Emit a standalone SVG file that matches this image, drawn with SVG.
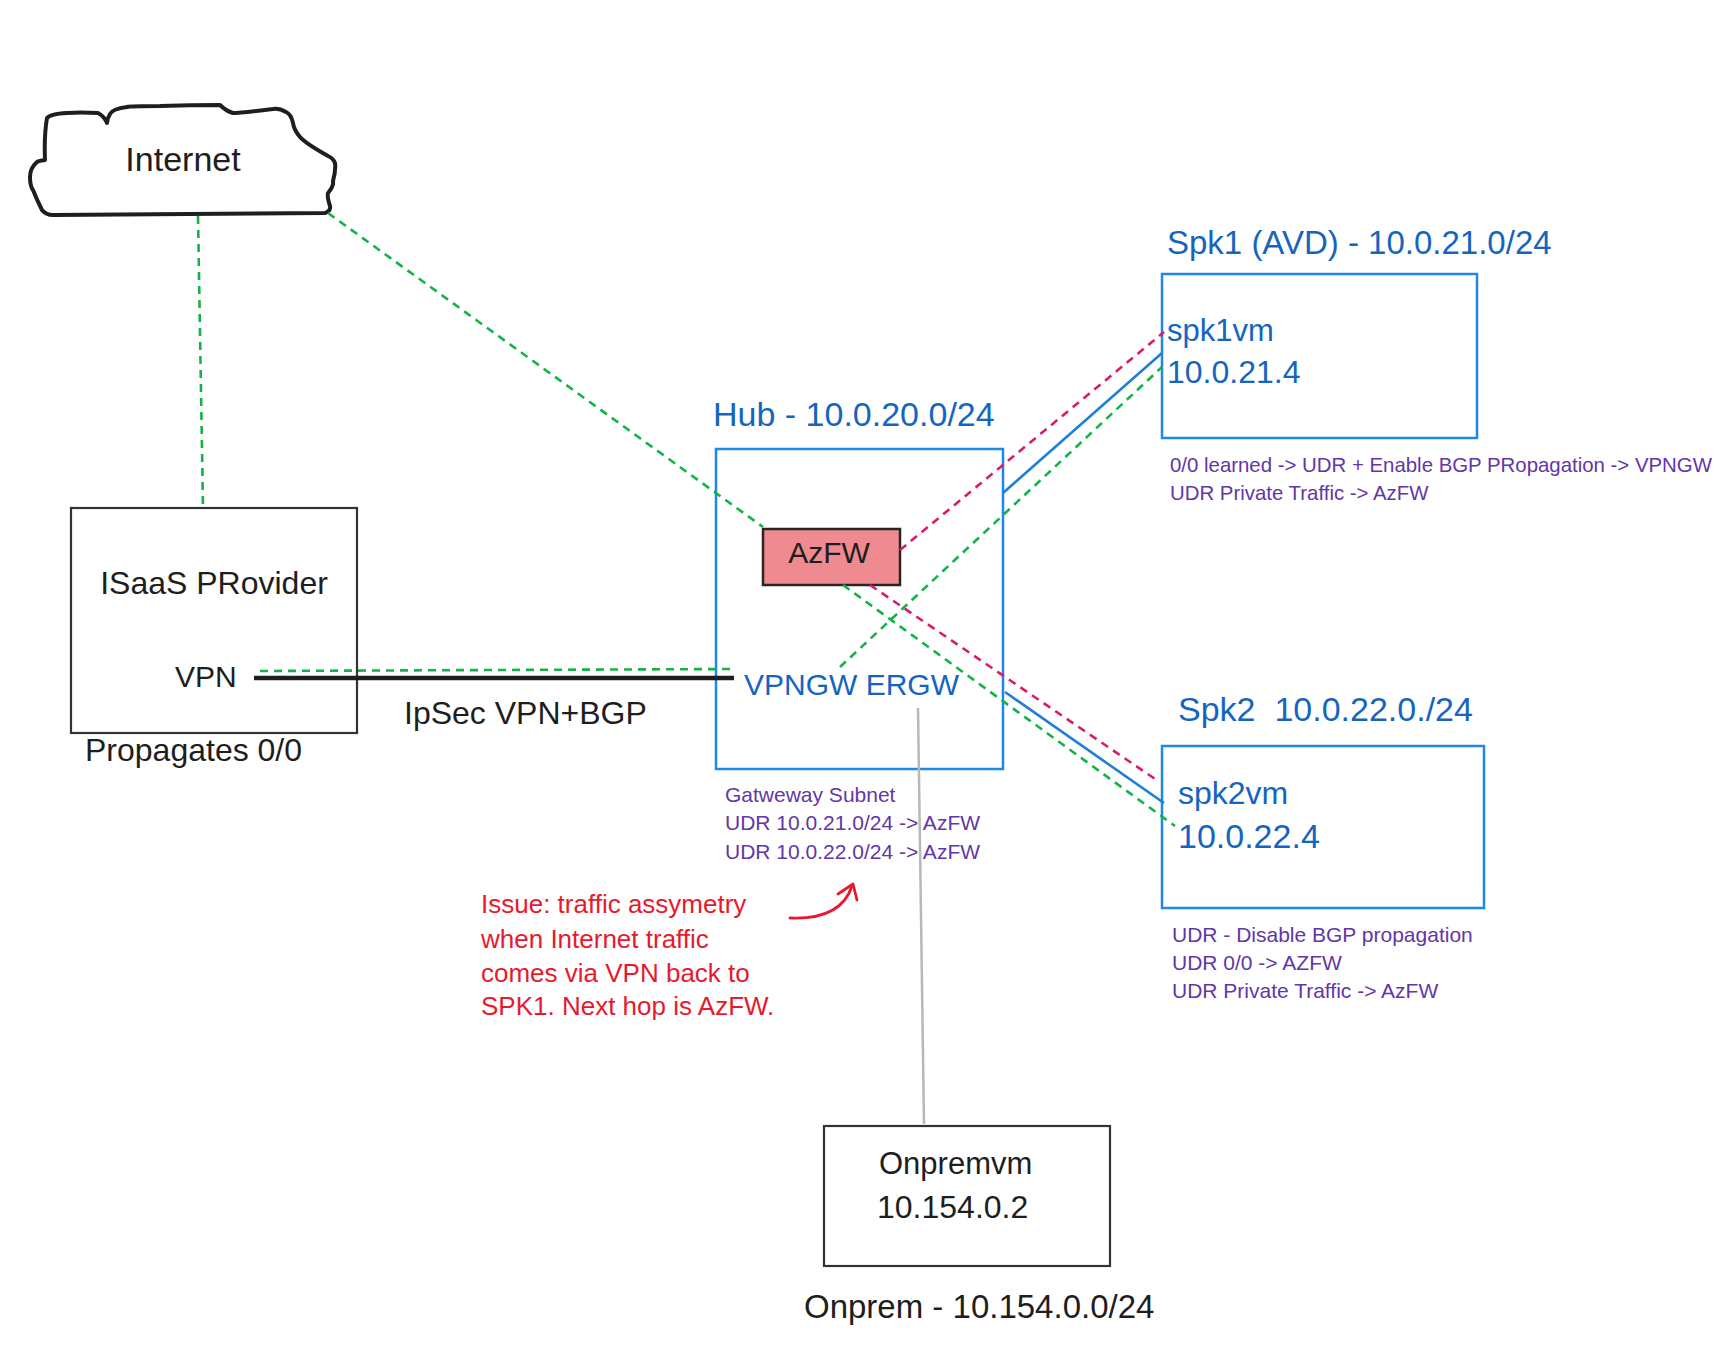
<svg xmlns="http://www.w3.org/2000/svg" width="1734" height="1363" viewBox="0 0 1734 1363">
<style>
text{font-family:"Liberation Sans","Noto Sans",Arial,sans-serif;white-space:pre}
.blk{fill:#1e1e1e}
.blu{fill:#1565c0}
.pur{fill:#6236a8;font-size:21px}
.pur2{fill:#6236a8;font-size:20.4px}
.red{fill:#e8192c;font-size:26px}
.box{fill:none;stroke:#333;stroke-width:2.2}
.bbox{fill:none;stroke:#1e88e5;stroke-width:2.5}
.gd{fill:none;stroke:#12b347;stroke-width:2.6;stroke-dasharray:8 6}
.md{fill:none;stroke:#d81b6a;stroke-width:2.6;stroke-dasharray:8 6}
.bl{fill:none;stroke:#1e7fd8;stroke-width:2.6}
</style>
<rect width="1734" height="1363" fill="#ffffff"/>
<g id="internet">
<path d="M53,215 L325,213 Q331,211 330,206 Q327,197 328,193 Q334,186 333,181 Q336,170 335,163 Q333,158 328,156 Q305,143 300,137 Q294,130 293,123 Q291,114 286,112 Q279,108 273,109 Q240,113 233,113 Q226,111 220,105 Q190,105 160,106 Q130,106 127,107 Q112,109 110,114 Q107,119 107,123 Q104,116 98,113 Q80,112 67,113 Q50,114 47,118 Q44,135 45,160 Q38,161 37,162 Q30,168 30,177 Q30,186 33,190 Q37,200 42,210 Q46,215 53,215 Z" fill="#fff" stroke="#1e1e1e" stroke-width="4" stroke-linejoin="round"/>
<text x="183" y="171" font-size="34" text-anchor="middle" class="blk">Internet</text>
</g>
<g id="isaas">
<rect x="71" y="508" width="286" height="225" class="box"/>
<text x="214" y="594" font-size="32" text-anchor="middle" class="blk">ISaaS PRovider</text>
<text x="175" y="687" font-size="30" class="blk">VPN</text>
<text x="85" y="761" font-size="32" class="blk">Propagates 0/0</text>
</g>
<g id="ipsec-label">
<text x="404" y="724" font-size="32" class="blk">IpSec VPN+BGP</text>
</g>
<g id="hub">
<text x="713" y="426" font-size="34" class="blu">Hub - 10.0.20.0/24</text>
<rect x="716" y="449" width="287" height="320" class="bbox"/>
<text x="744" y="695" font-size="30" class="blu">VPNGW ERGW</text>
<text x="725" y="802" class="pur">Gatweway Subnet</text>
<text x="725" y="830" class="pur">UDR 10.0.21.0/24 -&gt; AzFW</text>
<text x="725" y="859" class="pur">UDR 10.0.22.0/24 -&gt; AzFW</text>
</g>
<g id="azfw">
<rect x="763" y="529" width="137" height="56" fill="#f08a91" stroke="#262626" stroke-width="2.5"/>
<text x="829" y="563" font-size="30" text-anchor="middle" class="blk">AzFW</text>
</g>
<g id="spk1">
<text x="1167" y="254" font-size="33" class="blu">Spk1 (AVD) - 10.0.21.0/24</text>
<rect x="1162" y="274" width="315" height="164" class="bbox"/>
<text x="1167" y="341" font-size="31" class="blu">spk1vm</text>
<text x="1167" y="383" font-size="32" class="blu">10.0.21.4</text>
<text x="1170" y="472" class="pur2">0/0 learned -&gt; UDR + Enable BGP PRopagation -&gt; VPNGW</text>
<text x="1170" y="500" class="pur2">UDR Private Traffic -&gt; AzFW</text>
</g>
<g id="spk2">
<text x="1178" y="721" font-size="34" class="blu">Spk2  10.0.22.0./24</text>
<rect x="1162" y="746" width="322" height="162" class="bbox"/>
<text x="1178" y="804" font-size="32" class="blu">spk2vm</text>
<text x="1178" y="848" font-size="34" class="blu">10.0.22.4</text>
<text x="1172" y="942" class="pur">UDR - Disable BGP propagation</text>
<text x="1172" y="970" class="pur">UDR 0/0 -&gt; AZFW</text>
<text x="1172" y="998" class="pur">UDR Private Traffic -&gt; AzFW</text>
</g>
<g id="issue">
<text x="481" y="913" class="red">Issue: traffic assymetry</text>
<text x="481" y="948" class="red">when Internet traffic</text>
<text x="481" y="982" class="red">comes via VPN back to</text>
<text x="481" y="1015" class="red">SPK1. Next hop is AzFW.</text>
</g>
<g id="onprem">
<rect x="824" y="1126" width="286" height="140" class="box"/>
<text x="879" y="1174" font-size="31" class="blk">Onpremvm</text>
<text x="877" y="1218" font-size="32" class="blk">10.154.0.2</text>
<text x="804" y="1318" font-size="33" class="blk">Onprem - 10.154.0.0/24</text>
</g>
<g id="connectors">
<path d="M198,216 L203,507" class="gd"/>
<path d="M328,213 L763,527" class="gd"/>
<path d="M260,671 L734,669" class="gd"/>
<path d="M254,678 L734,678" fill="none" stroke="#1e1e1e" stroke-width="4.5"/>
<path d="M900,550 L1164,332" class="md"/>
<path d="M1003,493 L1162,353" class="bl"/>
<path d="M840,667 L1162,367" class="gd"/>
<path d="M870,585 L1158,781" class="md"/>
<path d="M843,585 L1175,826" class="gd"/>
<path d="M1005,692 L1164,803" class="bl"/>
<path d="M918,708 L924,1124" fill="none" stroke="#b8b8b8" stroke-width="2.5"/>
<path d="M790,918 Q841,920 852,886" fill="none" stroke="#e8192c" stroke-width="2.8" stroke-linecap="round"/>
<path d="M838,894 L853,884 L857,900" fill="none" stroke="#e8192c" stroke-width="2.8" stroke-linecap="round" stroke-linejoin="round"/>
</g>
</svg>
